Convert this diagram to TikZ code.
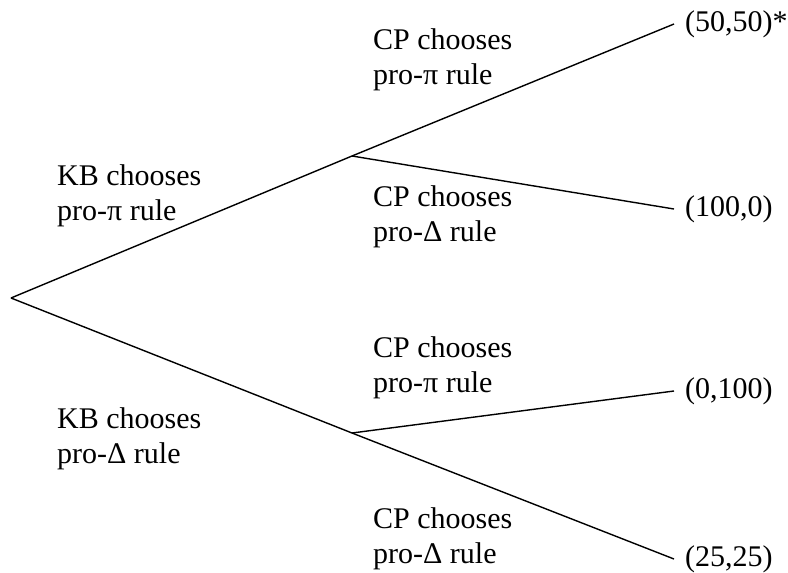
\documentclass[tikz,border=0pt]{standalone}
\usepackage{fontspec}
\setmainfont{Liberation Serif}
\begin{document}
\begin{tikzpicture}[x=1pt, y=-1pt,
		choice/.style={align=left, anchor=west, inner sep=0pt, font=\fontsize{30}{35}\selectfont},
		payoff/.style={anchor=west, inner ysep=0pt, inner xsep=11pt, font=\fontsize{30}{35}\selectfont}]
		\useasboundingbox (0,0) rectangle (788,573);
		% Decision points
		\coordinate (root) at (11,298);
		\coordinate (kbpi) at (352,156);
		\coordinate (kbdelta) at (352,433);
		% Outcomes
		\node [payoff] (pipi) at (674,24) {(50,50)*};
		\node [payoff] (pidelta) at (674,209) {(100,0)};
		\node [payoff] (deltapi) at (674,391) {(0,100)};
		\node [payoff] (deltadelta) at (674,559) {(25,25)};
		% Branches
		\draw [line width=1.4pt] (root) -- (kbpi);
		\draw [line width=1.4pt] (root) -- (kbdelta);
		\draw [line width=1.4pt] (kbpi) -- (pipi.west);
		\draw [line width=1.4pt] (kbpi) -- (pidelta.west);
		\draw [line width=1.4pt] (kbdelta) -- (deltapi.west);
		\draw [line width=1.4pt] (kbdelta) -- (deltadelta.west);
		% Moves
		\node [choice] (kbpilabel) at (57,196) {KB chooses\\pro-π rule};
		\node [choice] (kbdeltalabel) at (57,439) {KB chooses\\pro-Δ rule};
		\foreach \name/\y/\rule in {cppipi/60/π, cppidelta/217/Δ, cpdeltapi/368/π, cpdeltadelta/539/Δ}
			\node [choice] (\name) at (373,\y) {CP chooses\\pro-\rule\ rule};
	\end{tikzpicture}
\end{document}
